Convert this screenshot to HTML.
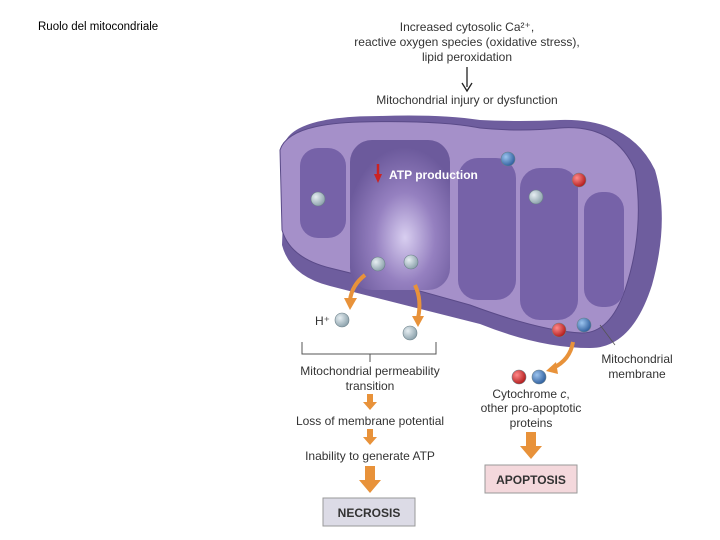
<!DOCTYPE html>
<html><head><meta charset="utf-8"><style>
body{margin:0;width:720px;height:540px;background:#fff;overflow:hidden;font-family:"Liberation Sans",sans-serif}
svg{position:absolute;left:0;top:0}
</style></head><body>
<svg width="720" height="540" viewBox="0 0 720 540" font-family="Liberation Sans, sans-serif">
<defs>
<radialGradient id="g1" cx="0.55" cy="0.65" r="0.6"><stop offset="0" stop-color="#d8cef0"/><stop offset="0.5" stop-color="#9580c0"/><stop offset="1" stop-color="#6c5a9c"/></radialGradient>
<radialGradient id="bl" cx="0.35" cy="0.35" r="0.7"><stop offset="0" stop-color="#e6eef2"/><stop offset="1" stop-color="#8aa0aa"/></radialGradient>
<radialGradient id="rd" cx="0.35" cy="0.35" r="0.7"><stop offset="0" stop-color="#ff8a8a"/><stop offset="1" stop-color="#b01818"/></radialGradient>
<radialGradient id="bu" cx="0.35" cy="0.35" r="0.7"><stop offset="0" stop-color="#9cc4ee"/><stop offset="1" stop-color="#2c5c9c"/></radialGradient>
</defs>
<text x="38" y="30" font-size="11.5">Ruolo del mitocondriale</text>
<g font-size="12" fill="#333" text-anchor="middle">
<text x="467" y="31">Increased cytosolic Ca²⁺,</text>
<text x="467" y="46">reactive oxygen species (oxidative stress),</text>
<text x="467" y="61">lipid peroxidation</text>
<text x="467" y="104">Mitochondrial injury or dysfunction</text>
</g>
<line x1="467" y1="67" x2="467" y2="87" stroke="#222" stroke-width="1.3"/>
<path d="M462 83 L467 91 L472 83" fill="none" stroke="#222" stroke-width="1.3"/>
<path d="M286 140 Q300 116 380 116 Q440 114 480 120 Q520 122 560 120 Q630 118 655 170 Q670 220 652 285 Q632 348 590 348 Q540 348 480 324 Q400 304 330 286 Q290 276 282 245 Z" fill="#6e5d9e"/>
<path d="M280 150 Q288 124 360 122 Q440 120 480 128 Q520 132 560 128 Q615 124 635 170 Q645 230 625 290 Q610 333 582 333 Q540 331 470 305 Q400 285 330 268 Q290 258 282 230 Z" fill="#a590c9" stroke="#5a4a88" stroke-width="1"/>
<g fill="#7662a8">
<rect x="300" y="148" width="46" height="90" rx="18"/>
<rect x="350" y="140" width="100" height="150" rx="22" fill="url(#g1)"/>
<rect x="458" y="158" width="58" height="142" rx="20"/>
<rect x="520" y="168" width="58" height="152" rx="20"/>
<rect x="584" y="192" width="40" height="115" rx="18"/>
</g>
<text x="389" y="179" font-size="12" font-weight="bold" fill="#fff">ATP production</text>
<path d="M378 164 L378 176" stroke="#c22" stroke-width="2.5"/><path d="M374 174 L378 183 L382 174Z" fill="#c22"/>
<g stroke="#6a7f88" stroke-width="0.6">
<circle cx="318" cy="199" r="7" fill="url(#bl)"/>
<circle cx="378" cy="264" r="7" fill="url(#bl)"/>
<circle cx="411" cy="262" r="7" fill="url(#bl)"/>
<circle cx="536" cy="197" r="7" fill="url(#bl)"/>
<circle cx="342" cy="320" r="7" fill="url(#bl)"/>
<circle cx="410" cy="333" r="7" fill="url(#bl)"/>
<circle cx="508" cy="159" r="7" fill="url(#bu)"/>
<circle cx="579" cy="180" r="7" fill="url(#rd)"/>
<circle cx="559" cy="330" r="7" fill="url(#rd)"/>
<circle cx="584" cy="325" r="7" fill="url(#bu)"/>
<circle cx="519" cy="377" r="7" fill="url(#rd)"/>
<circle cx="539" cy="377" r="7" fill="url(#bu)"/>
</g>
<text x="315" y="325" font-size="12" fill="#333">H⁺</text>
<g fill="none" stroke="#e8923a" stroke-width="4">
<path d="M365 275 Q352 285 350 300"/><path d="M415 285 Q422 300 418 318"/><path d="M573 342 Q570 360 553 368"/>
</g>
<g fill="#e8923a"><path d="M344 298 L350 310 L357 298Z"/><path d="M412 316 L418 327 L424 316Z"/><path d="M556 362 L546 371 L558 374Z"/></g>
<path d="M302 342 L302 354 L436 354 L436 342 M370 354 L370 362" fill="none" stroke="#555" stroke-width="1"/>
<line x1="615" y1="345" x2="600" y2="325" stroke="#555" stroke-width="0.8"/>
<g font-size="12" fill="#333" text-anchor="middle">
<text x="370" y="375">Mitochondrial permeability</text>
<text x="370" y="390">transition</text>
<text x="370" y="425">Loss of membrane potential</text>
<text x="370" y="460">Inability to generate ATP</text>
<text x="637" y="363">Mitochondrial</text>
<text x="637" y="378">membrane</text>
<text x="531" y="398">Cytochrome <tspan font-style="italic">c</tspan>,</text>
<text x="531" y="412">other pro-apoptotic</text>
<text x="531" y="427">proteins</text>
</g>
<g fill="#e8923a">
<path d="M367 394h6v8h4l-7 8-7-8h4z"/><path d="M367 429h6v8h4l-7 8-7-8h4z"/>
<path d="M365 466h10v14h6l-11 13-11-13h6z"/><path d="M526 432h10v14h6l-11 13-11-13h6z"/>
</g>
<rect x="323" y="498" width="92" height="28" fill="#dcdbe6" stroke="#999"/>
<text x="369" y="517" font-size="12" font-weight="bold" text-anchor="middle" fill="#333">NECROSIS</text>
<rect x="485" y="465" width="92" height="28" fill="#f4d8dc" stroke="#999"/>
<text x="531" y="484" font-size="12" font-weight="bold" text-anchor="middle" fill="#333">APOPTOSIS</text>
</svg>
</body></html>
